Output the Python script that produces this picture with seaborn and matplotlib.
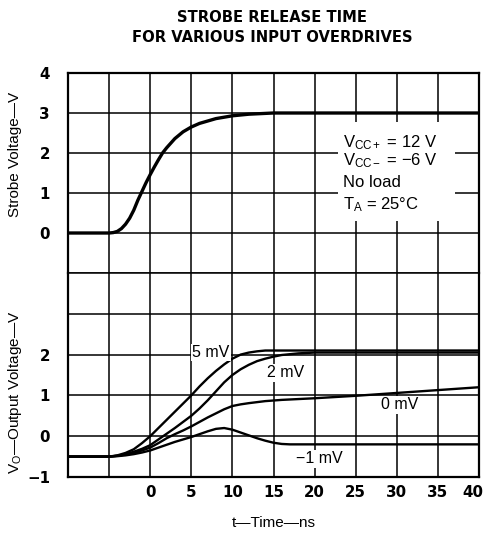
import numpy as np
import pandas as pd
import matplotlib
matplotlib.use("Agg")
import matplotlib.pyplot as plt
import matplotlib.transforms as mtransforms
from matplotlib.patches import Rectangle
import seaborn as sns

# ---- data ----
t_strobe = [-10, -5, -4.5, -4, -3.5, -3, -2.5, -2, -1.5, -1, -0.5, 0, 0.5, 1, 1.5, 2, 3, 4, 5, 6, 8, 10, 12, 15, 20, 40]
v_strobe = [0, 0, 0.01, 0.04, 0.11, 0.22, 0.37, 0.57, 0.82, 1.04, 1.26, 1.46, 1.65, 1.83, 2.0, 2.13, 2.36, 2.53, 2.65, 2.74, 2.86, 2.93, 2.97, 3.0, 3.0, 3.0]

t_5mv = [-10, -5, -4, -3, -2, -1, 0, 1, 2, 3, 4, 5, 6, 7, 8, 9, 10, 11, 12, 13, 14, 15, 20, 40]
v_5mv = [-0.5, -0.5, -0.47, -0.41, -0.32, -0.17, 0.0, 0.2, 0.4, 0.6, 0.8, 1.0, 1.22, 1.42, 1.6, 1.76, 1.9, 2.0, 2.05, 2.08, 2.1, 2.1, 2.1, 2.1]

t_2mv = [-10, -5, -4, -3, -2, -1, 0, 1, 2, 3, 4, 5, 6, 7, 8, 9, 10, 11, 12, 13, 14, 15, 16, 17, 18, 19, 20, 40]
v_2mv = [-0.5, -0.5, -0.48, -0.44, -0.38, -0.31, -0.22, -0.08, 0.06, 0.2, 0.35, 0.5, 0.68, 0.88, 1.1, 1.32, 1.5, 1.64, 1.75, 1.84, 1.9, 1.95, 1.99, 2.01, 2.03, 2.04, 2.05, 2.05]

t_0mv = [-10, -5, -4, -3, -2, -1, 0, 1, 2, 3, 4, 5, 6, 7, 8, 9, 10, 11, 12, 14, 16, 20, 25, 30, 35, 40]
v_0mv = [-0.5, -0.5, -0.48, -0.45, -0.41, -0.35, -0.28, -0.17, -0.05, 0.05, 0.14, 0.24, 0.35, 0.46, 0.56, 0.66, 0.74, 0.78, 0.81, 0.86, 0.89, 0.93, 0.99, 1.06, 1.13, 1.2]

t_m1mv = [-10, -5, -4, -3, -2, -1, 0, 1, 2, 3, 4, 5, 6, 7, 8, 9, 10, 11, 12, 13, 14, 15, 16, 17, 18, 20, 40]
v_m1mv = [-0.5, -0.5, -0.49, -0.47, -0.44, -0.4, -0.35, -0.28, -0.21, -0.14, -0.08, -0.02, 0.05, 0.12, 0.18, 0.2, 0.16, 0.09, 0.02, -0.05, -0.11, -0.16, -0.19, -0.2, -0.2, -0.2, -0.2]

x_ticks = [-10, -5, 0, 5, 10, 15, 20, 25, 30, 35, 40]
x_tick_labels = ["", "", "0", "5", "10", "15", "20", "25", "30", "35", "40"]
y_ticks = [-1, 0, 1, 2, 3, 4]
top_y_labels = ["", "0", "1", "2", "3", "4"]
bot_y_labels = ["\u22121", "0", "1", "2", "", ""]

curve_names = ["5 mV", "2 mV", "0 mV", "\u22121 mV"]
frames = []
for name, t, v in zip(curve_names, [t_5mv, t_2mv, t_0mv, t_m1mv], [v_5mv, v_2mv, v_0mv, v_m1mv]):
    frames.append(pd.DataFrame({"t": t, "v": v, "overdrive": name}))
df_out = pd.concat(frames, ignore_index=True)
df_strobe = pd.DataFrame({"t": t_strobe, "v": v_strobe})

# ---- style ----
sns.set_style("white")
plt.rcParams["font.family"] = ["Liberation Sans", "DejaVu Sans"]
plt.rcParams["text.color"] = "black"
plt.rcParams["xtick.color"] = "black"
plt.rcParams["ytick.color"] = "black"
plt.rcParams["mathtext.fontset"] = "custom"
plt.rcParams["mathtext.rm"] = "Liberation Sans"
plt.rcParams["mathtext.it"] = "Liberation Sans"

tick_font = dict(family="DejaVu Sans", weight="bold", size=10.8)

fig = plt.figure(figsize=(4.86, 5.37), dpi=100)
W, H = 486, 537
left, right, top, mid, bottom = 68 / W, 479 / W, 1 - 73 / H, 1 - 273 / H, 1 - 477 / H
ax_top = fig.add_axes([left, mid, right - left, top - mid])
ax_bot = fig.add_axes([left, bottom, right - left, mid - bottom])

sns.lineplot(data=df_strobe, x="t", y="v", ax=ax_top, color="black", linewidth=2.4, zorder=3)
sns.lineplot(data=df_out, x="t", y="v", units="overdrive", estimator=None, ax=ax_bot,
             color="black", linewidth=1.7, zorder=3, legend=False)

for ax in (ax_top, ax_bot):
    ax.set_xlim(-10, 40)
    ax.set_ylim(-1, 4)
    ax.set_xticks(x_ticks)
    ax.set_yticks(y_ticks)
    ax.grid(True, color="black", linewidth=1.1)
    ax.set_axisbelow(True)
    ax.tick_params(length=0)
    for s in ax.spines.values():
        s.set_color("black")
        s.set_linewidth(1.6)
    ax.set_xlabel("")
    ax.set_ylabel("")

ax_top.spines["bottom"].set_linewidth(1.1)
ax_bot.spines["top"].set_visible(False)

ax_top.set_xticklabels([""] * len(x_ticks))
ax_top.set_yticklabels(top_y_labels, fontdict=tick_font)
ax_bot.set_xticklabels(x_tick_labels, fontdict=tick_font)
ax_bot.set_yticklabels(bot_y_labels, fontdict=tick_font)
ax_top.tick_params(axis="y", pad=13)
ax_bot.tick_params(axis="y", pad=13)
ax_bot.tick_params(axis="x", pad=6)
# the last label sits a little inside the right edge, as in the print
last = ax_bot.get_xticklabels()[-1]
last.set_transform(last.get_transform() + mtransforms.ScaledTranslation(-6 / 100, 0, fig.dpi_scale_trans))

# conditions box
ax_top.add_patch(Rectangle((22.8, 0.3), 14.3, 2.47, facecolor="white", edgecolor="none", zorder=2))
cond = ["V$_\\mathrm{CC+}$ = 12 V", "V$_\\mathrm{CC\u2212}$ = \u22126 V", "No load", "T$_\\mathrm{A}$ = 25\u00b0C"]
cond_y = [2.27, 1.8, 1.26, 0.7]
for txt, yy in zip(cond, cond_y):
    ax_top.text(23.4, yy, txt, fontsize=12, ha="left", va="center", zorder=4)

# curve labels
lab_pos = {"5 mV": (7.4, 2.05), "2 mV": (16.5, 1.55), "0 mV": (30.3, 0.77), "\u22121 mV": (20.6, -0.55)}
for name, (xx, yy) in lab_pos.items():
    ax_bot.text(xx, yy, name, fontsize=11.5, ha="center", va="center", zorder=4,
                bbox=dict(facecolor="white", edgecolor="none", pad=1.0))

fig.text(272 / W, 1 - 27.5 / H, "STROBE RELEASE TIME\nFOR VARIOUS INPUT OVERDRIVES",
         ha="center", va="center", fontsize=10.6, family="DejaVu Sans", fontweight="bold", linespacing=1.5)
fig.text(273.5 / W, 1 - 523 / H, "t\u2014Time\u2014ns", ha="center", va="center", fontsize=11)
fig.text(15 / W, 1 - 154 / H, "Strobe Voltage\u2014V", rotation=90, ha="center", va="center", fontsize=11)
fig.text(15 / W, 1 - 392 / H, "V$_\\mathrm{O}$\u2014Output Voltage\u2014V", rotation=90, ha="center", va="center", fontsize=11)

fig.savefig("out.png", dpi=100, facecolor="white")
